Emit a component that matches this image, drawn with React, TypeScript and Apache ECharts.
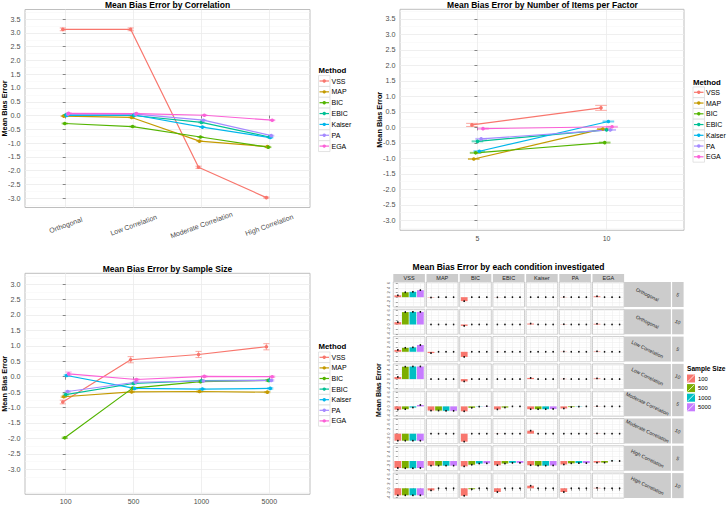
import React, { useEffect, useRef } from 'react';
import * as echarts from 'echarts';

const FONT = '"Liberation Sans", Arial, Helvetica, sans-serif';

// ---------- data ----------
const METHODS = ['VSS', 'MAP', 'BIC', 'EBIC', 'Kaiser', 'PA', 'EGA'];
const METHOD_COLORS = ['#F8766D', '#C49A00', '#53B400', '#00C094', '#00B6EB', '#A58AFF', '#FB61D7'];

const CORRELATIONS = ['Orthogonal', 'Low Correlation', 'Moderate Correlation', 'High Correlation'];
const ITEMS = ['5', '10'];
const SAMPLE_SIZES = ['100', '500', '1000', '5000'];
const SIZE_COLORS = ['#F8766D', '#7CAE00', '#00BFC4', '#C77CFF'];

const LINE_Y_TICKS = [-3, -2.5, -2, -1.5, -1, -0.5, 0, 0.5, 1, 1.5, 2, 2.5, 3, 3.5];
const FACET_Y_TICKS = [-4, -2, 0, 2, 4, 6];

// Mean bias by correlation (rows = methods, cols = correlation levels)
const CORR_MEAN = [
  [3.13, 3.13, -1.88, -2.98],
  [-0.02, -0.07, -0.93, -1.13],
  [-0.29, -0.4, -0.78, -1.15],
  [0.02, 0.0, -0.25, -0.78],
  [0.0, 0.02, -0.42, -0.8],
  [0.05, 0.05, -0.17, -0.73],
  [0.08, 0.07, 0.01, -0.17],
];
const CORR_SE = [
  [0.05, 0.05, 0.04, 0.02],
  [0.015, 0.015, 0.015, 0.015],
  [0.015, 0.015, 0.015, 0.015],
  [0.015, 0.015, 0.015, 0.015],
  [0.015, 0.015, 0.015, 0.015],
  [0.015, 0.015, 0.015, 0.015],
  [0.015, 0.015, 0.015, 0.015],
];

// Mean bias by number of items per factor
const ITEMS_MEAN = [
  [0.08, 0.63],
  [-1.02, -0.05],
  [-0.82, -0.49],
  [-0.45, -0.08],
  [-0.77, 0.19],
  [-0.37, -0.08],
  [-0.04, 0.02],
];
const ITEMS_SE = [
  [0.05, 0.08],
  [0.015, 0.015],
  [0.015, 0.015],
  [0.015, 0.015],
  [0.015, 0.015],
  [0.015, 0.015],
  [0.015, 0.015],
];

// Mean bias by sample size
const SIZE_MEAN = [
  [-0.82, 0.55, 0.72, 0.97],
  [-0.65, -0.49, -0.48, -0.5],
  [-1.98, -0.37, -0.16, -0.12],
  [-0.58, -0.22, -0.13, -0.12],
  [0.04, -0.38, -0.4, -0.38],
  [-0.48, -0.18, -0.14, -0.12],
  [0.09, -0.09, 0.01, 0.0],
];
const SIZE_SE = [
  [0.06, 0.1, 0.1, 0.1],
  [0.02, 0.02, 0.02, 0.02],
  [0.02, 0.02, 0.02, 0.02],
  [0.02, 0.02, 0.02, 0.02],
  [0.02, 0.02, 0.02, 0.02],
  [0.02, 0.02, 0.02, 0.02],
  [0.06, 0.02, 0.02, 0.02],
];

// Facet grid rows (correlation x items) and per-method cell values (4 sample sizes)
const FACET_ROW_CORR = ['Orthogonal', 'Orthogonal', 'Low Correlation', 'Low Correlation',
  'Moderate Correlation', 'Moderate Correlation', 'High Correlation', 'High Correlation'];
const FACET_ROW_ITEMS = ['5', '10', '5', '10', '5', '10', '5', '10'];

const FACET_VSS = [
  [0.8, 2.1, 2.3, 3.0], [1.0, 5.3, 5.4, 5.4], [0.8, 1.7, 1.9, 2.9], [0.9, 5.3, 5.4, 5.4],
  [-1.4, -1.2, -0.5, 0.6], [-3.0, -3.0, -3.0, -3.0], [-3.0, -3.1, -3.1, -3.0], [-3.0, -3.0, -3.0, -3.0],
];
const FACET_MAP = [
  [-0.15, 0, 0, 0], [0, 0, 0, 0], [-0.55, 0, 0, 0], [0, 0, 0, 0],
  [-1.8, -1.8, -1.9, -1.9], [0, 0, 0, 0], [-2.0, -2.0, -2.0, -2.0], [-0.9, 0, 0, 0],
];
const FACET_BIC = [
  [-1.7, 0, 0, 0], [-0.6, 0, 0, 0], [-2.2, 0, 0, 0], [-1.0, 0, 0, 0],
  [-2.1, -0.6, -0.1, 0.1], [-3.4, 0, 0, 0], [-2.3, -1.6, -1.1, -1.0], [-3.2, -0.4, 0, 0],
];
const FACET_EBIC = [
  [-0.05, 0, 0, 0], [0, 0, 0, 0], [-0.05, 0, 0, 0], [0, 0, 0, 0],
  [-1.3, -0.5, 0, 0], [-0.05, 0, 0, 0], [-1.8, -1.1, -0.8, -0.8], [-1.6, 0, 0, 0],
];
const FACET_KAISER = [
  [0, 0, 0, 0], [0.4, 0, 0, 0], [0, 0, 0, 0], [0.5, 0, 0, 0],
  [-1.2, -1.2, -1.2, -1.1], [1.3, 0, 0, 0], [-1.8, -2.0, -2.0, -1.9], [1.1, 0, 0, 0],
];
const FACET_PA = [
  [0.1, 0, 0, 0], [0.1, 0, 0, 0], [0.1, 0, 0, 0], [0.1, 0, 0, 0],
  [-0.9, -0.3, -0.1, 0], [0, 0, 0, 0], [-1.5, -1.0, -0.9, -0.9], [-1.6, 0, 0, 0],
];
const FACET_EGA = [
  [0.4, 0, 0, 0], [0.3, 0, 0, 0], [0.2, 0, 0, 0], [0.3, 0, 0, 0],
  [0.1, 0, 0, 0], [0.1, 0, 0, 0], [-0.7, -0.7, 0.05, 0], [0.2, 0, 0, 0],
];
const FACET_SE = 0.15;

// ---------- style / layout ----------
const GRID_MAJOR = '#EBEBEB';
const GRID_MINOR = '#F5F5F5';
const BORDER = '#BFBFBF';
const TICK = '#6B6B6B';
const AXIS_TEXT = '#4D4D4D';
const DODGE = 0.1 / 7;
const CAP = 0.09;

const FX0 = 393.3, FPX = 33.2, FW = 31.6;
const FY0 = 282, FPY = 27.3, FH = 25;
const FY_MIN = -4.2, FY_MAX = 6.5;

function isMult(v: number, step: number) {
  const q = v / step;
  return Math.abs(q - Math.round(q)) < 1e-6;
}

function txt(x: number, y: number, s: string, o: any = {}) {
  return {
    type: 'text', x, y, rotation: o.rotation || 0, z: 10,
    style: {
      text: s, fontSize: o.size || 7, fontWeight: o.bold ? 'bold' : 'normal', fontFamily: FONT,
      fill: o.color || '#000', align: o.align || 'left', verticalAlign: 'middle',
      textAlign: o.align || 'left', textVerticalAlign: 'middle',
    },
  };
}

function buildOption() {
  const opt: any = { animation: false, backgroundColor: '#fff', grid: [], xAxis: [], yAxis: [], series: [], graphic: [] };
  const g = opt.graphic;

  const linePanels = [
    {
      box: { left: 25, top: 9.5, width: 285, height: 198 }, yMin: -3.34, yMax: 3.85,
      cats: CORRELATIONS, means: CORR_MEAN, ses: CORR_SE,
      xLabel: { rotate: 20, align: 'center', verticalAlign: 'middle', margin: 17.5 },
      title: 'Mean Bias Error by Correlation', titleX: 167.5, titleY: 4.8,
      leg: { x: 318.5, titleY: 70, y0: 81, pitch: 10.85 },
    },
    {
      box: { left: 400, top: 9.3, width: 284, height: 221 }, yMin: -3.32, yMax: 3.81,
      cats: ITEMS, means: ITEMS_MEAN, ses: ITEMS_SE,
      xLabel: { margin: 4.5 },
      title: 'Mean Bias Error by Number of Items per Factor', titleX: 542.5, titleY: 4.8,
      leg: { x: 693, titleY: 82, y0: 92.3, pitch: 10.75 },
    },
    {
      box: { left: 25, top: 273.3, width: 285, height: 221 }, yMin: -3.81, yMax: 3.35,
      cats: SAMPLE_SIZES, means: SIZE_MEAN, ses: SIZE_SE,
      xLabel: { margin: 4 },
      title: 'Mean Bias Error by Sample Size', titleX: 167.5, titleY: 269,
      leg: { x: 318.5, titleY: 346.7, y0: 357.3, pitch: 10.6 },
    },
  ];

  linePanels.forEach((p, gi) => {
    const { box, cats } = p;
    opt.grid.push({ ...box, show: true, borderColor: BORDER, borderWidth: 1, backgroundColor: '#fff' });
    const ci = cats.map((_: any, i: number) => i);
    opt.xAxis.push({
      type: 'value', gridIndex: gi, min: -0.6, max: cats.length - 0.4, minInterval: 1, maxInterval: 1,
      axisLine: { show: false },
      axisTick: { show: true, customValues: ci, length: 3, lineStyle: { color: TICK, width: 0.8 } },
      axisLabel: {
        customValues: ci, fontSize: 7, color: AXIS_TEXT, fontFamily: FONT, ...p.xLabel,
        formatter: (v: number) => (isMult(v, 1) && cats[Math.round(v)] !== undefined ? cats[Math.round(v)] : ''),
      },
      splitLine: { show: true, lineStyle: { color: GRID_MAJOR, width: 0.8 } },
    });
    const yt = LINE_Y_TICKS.filter((t) => t >= p.yMin && t <= p.yMax);
    opt.yAxis.push({
      type: 'value', gridIndex: gi, min: p.yMin, max: p.yMax, minInterval: 0.5, maxInterval: 0.5,
      axisLine: { show: false },
      axisTick: { show: true, customValues: yt, length: 3, lineStyle: { color: TICK, width: 0.8 } },
      axisLabel: {
        customValues: yt, fontSize: 7.2, color: AXIS_TEXT, fontFamily: FONT, margin: 4.5,
        formatter: (v: number) => (isMult(v, 0.5) ? v.toFixed(1) : ''),
      },
      splitLine: { show: true, lineStyle: { color: GRID_MAJOR, width: 0.8 } },
      minorTick: { show: false, splitNumber: 2 },
      minorSplitLine: { show: true, lineStyle: { color: GRID_MINOR, width: 0.5 } },
    });

    const errData: any[] = [];
    METHODS.forEach((m, k) => {
      const pts = p.means[k].map((v: number, i: number) => [i + (k - 3) * DODGE, v]);
      opt.series.push({
        type: 'line', name: m, xAxisIndex: gi, yAxisIndex: gi, data: pts,
        symbol: 'circle', symbolSize: 3.6, showSymbol: true,
        lineStyle: { color: METHOD_COLORS[k], width: 1.2 }, itemStyle: { color: METHOD_COLORS[k] }, z: 3,
      });
      p.means[k].forEach((v: number, i: number) => {
        const se = p.ses[k][i];
        errData.push([i + (k - 3) * DODGE, v - se, v + se, k]);
      });
    });
    opt.series.push({
      type: 'custom', xAxisIndex: gi, yAxisIndex: gi, data: errData, z: 2,
      encode: { x: 0, y: [1, 2] },
      renderItem: (params: any, api: any) => {
        const x = api.value(0), lo = api.value(1), hi = api.value(2), k = api.value(3);
        const a = api.coord([x, lo]);
        const b = api.coord([x, hi]);
        const half = api.size([CAP, 0])[0] / 2;
        const style = { stroke: METHOD_COLORS[k], lineWidth: 0.9, opacity: 0.7 };
        return {
          type: 'group',
          children: [
            { type: 'line', shape: { x1: a[0], y1: a[1], x2: b[0], y2: b[1] }, style },
            { type: 'line', shape: { x1: a[0] - half, y1: a[1], x2: a[0] + half, y2: a[1] }, style },
            { type: 'line', shape: { x1: b[0] - half, y1: b[1], x2: b[0] + half, y2: b[1] }, style },
          ],
        };
      },
    });

    // legend (drawn as graphics: key box + line + point + label)
    const L = p.leg;
    g.push(txt(L.x, L.titleY, 'Method', { size: 7.8, bold: true }));
    METHODS.forEach((m, k) => {
      const cy = L.y0 + k * L.pitch;
      g.push({
        type: 'rect', z: 5,
        shape: { x: L.x, y: cy - L.pitch / 2, width: 11.5, height: L.pitch },
        style: { fill: '#fff', stroke: '#D9D9D9', lineWidth: 0.7 },
      });
      g.push({
        type: 'line', z: 6, shape: { x1: L.x + 1, y1: cy, x2: L.x + 10.5, y2: cy },
        style: { stroke: METHOD_COLORS[k], lineWidth: 1.2 },
      });
      g.push({ type: 'circle', z: 7, shape: { cx: L.x + 5.75, cy, r: 1.7 }, style: { fill: METHOD_COLORS[k] } });
      g.push(txt(L.x + 13, cy, m, { size: 7 }));
    });

    g.push(txt(p.titleX, p.titleY, p.title, { size: 8.5, bold: true, align: 'center' }));
    g.push(txt(box.left - 21, box.top + box.height / 2, 'Mean Bias Error', { size: 7.3, bold: true, align: 'center', rotation: Math.PI / 2 }));
  });

  // ---------- facet grid ----------
  const FACET_MEANS = [FACET_VSS, FACET_MAP, FACET_BIC, FACET_EBIC, FACET_KAISER, FACET_PA, FACET_EGA];
  const bw = (FW / 4.2) * 0.9;
  for (let r = 0; r < FACET_ROW_CORR.length; r++) {
    for (let c = 0; c < METHODS.length; c++) {
      const gi = opt.grid.length;
      opt.grid.push({
        left: FX0 + c * FPX, top: FY0 + r * FPY, width: FW, height: FH,
        show: true, borderColor: BORDER, borderWidth: 0.8, backgroundColor: '#fff',
      });
      opt.xAxis.push({
        type: 'value', gridIndex: gi, min: -0.6, max: 3.6, minInterval: 1, maxInterval: 1,
        axisLine: { show: false },
        axisTick: { show: r === FACET_ROW_CORR.length - 1, customValues: [0, 1, 2, 3], length: 2.5, lineStyle: { color: TICK, width: 0.7 } },
        axisLabel: { show: false },
        splitLine: { show: true, lineStyle: { color: GRID_MAJOR, width: 0.5 } },
      });
      opt.yAxis.push({
        type: 'value', gridIndex: gi, min: FY_MIN, max: FY_MAX, minInterval: 2, maxInterval: 2,
        axisLine: { show: false },
        axisTick: { show: c === 0, customValues: FACET_Y_TICKS, length: 2, lineStyle: { color: TICK, width: 0.6 } },
        axisLabel: {
          show: c === 0, customValues: FACET_Y_TICKS, fontSize: 4, rotate: 90, margin: 2.5,
          color: AXIS_TEXT, fontFamily: FONT,
          formatter: (v: number) => (isMult(v, 2) ? String(v) : ''),
        },
        splitLine: { show: true, lineStyle: { color: GRID_MAJOR, width: 0.5 } },
        minorTick: { show: false, splitNumber: 2 },
        minorSplitLine: { show: true, lineStyle: { color: GRID_MINOR, width: 0.4 } },
      });
      const vals = FACET_MEANS[c][r];
      opt.series.push({
        type: 'bar', xAxisIndex: gi, yAxisIndex: gi, barWidth: bw, z: 2,
        data: vals.map((v: number, i: number) => ({ value: [i, v], itemStyle: { color: SIZE_COLORS[i] } })),
      });
      opt.series.push({
        type: 'custom', xAxisIndex: gi, yAxisIndex: gi, z: 3,
        data: vals.map((v: number, i: number) => [i, v - FACET_SE, v + FACET_SE]),
        encode: { x: 0, y: [1, 2] },
        renderItem: (params: any, api: any) => {
          const x = api.value(0), lo = api.value(1), hi = api.value(2);
          const a = api.coord([x, lo]);
          const b = api.coord([x, hi]);
          const half = api.size([0.18, 0])[0] / 2;
          const style = { stroke: '#111', lineWidth: 1 };
          return {
            type: 'group',
            children: [
              { type: 'line', shape: { x1: a[0], y1: a[1], x2: b[0], y2: b[1] }, style },
              { type: 'line', shape: { x1: a[0] - half, y1: a[1], x2: a[0] + half, y2: a[1] }, style },
              { type: 'line', shape: { x1: b[0] - half, y1: b[1], x2: b[0] + half, y2: b[1] }, style },
            ],
          };
        },
      });
    }
  }

  // column strips
  METHODS.forEach((m, c) => {
    const x = FX0 + c * FPX;
    g.push({ type: 'rect', z: 1, shape: { x, y: 274, width: FW, height: 8 }, style: { fill: '#CCCCCC' } });
    g.push(txt(x + FW / 2, 278.2, m, { size: 5.5, align: 'center', color: '#222' }));
  });
  // row strips
  const rs1x = FX0 + 7 * FPX - (FPX - FW), rs1w = 46.8;
  const rs2x = rs1x + rs1w + 1.2, rs2w = 11.5;
  FACET_ROW_CORR.forEach((lab, r) => {
    const y = FY0 + r * FPY;
    g.push({ type: 'rect', z: 1, shape: { x: rs1x, y, width: rs1w, height: FH }, style: { fill: '#CCCCCC' } });
    g.push({ type: 'rect', z: 1, shape: { x: rs2x, y, width: rs2w, height: FH }, style: { fill: '#CCCCCC' } });
    g.push(txt(rs1x + rs1w / 2, y + FH / 2, lab, { size: 5, align: 'center', color: '#222', rotation: -0.45 }));
    g.push(txt(rs2x + rs2w / 2, y + FH / 2, FACET_ROW_ITEMS[r], { size: 5, align: 'center', color: '#222', rotation: -0.45 }));
  });

  g.push(txt(508.5, 267.3, 'Mean Bias Error by each condition investigated', { size: 8.5, bold: true, align: 'center' }));
  g.push(txt(378.5, FY0 + (8 * FPY - (FPY - FH)) / 2, 'Mean Bias Error', { size: 7, bold: true, align: 'center', rotation: Math.PI / 2 }));

  // sample size legend
  const lx = 687, ly0 = 374.5, lp = 9.6, ks = 8;
  g.push(txt(lx, 368.5, 'Sample Size', { size: 6.6, bold: true }));
  SAMPLE_SIZES.forEach((s, i) => {
    const y = ly0 + i * lp;
    g.push({ type: 'rect', z: 1, shape: { x: lx, y, width: ks, height: ks }, style: { fill: SIZE_COLORS[i] } });
    g.push({ type: 'line', z: 2, shape: { x1: lx + 0.5, y1: y + ks - 0.5, x2: lx + ks - 0.5, y2: y + 0.5 }, style: { stroke: '#fff', lineWidth: 0.8 } });
    g.push(txt(lx + ks + 3, y + ks / 2, s, { size: 5.8 }));
  });

  return opt;
}

export default function App() {
  const ref = useRef<HTMLDivElement>(null);
  useEffect(() => {
    if (!ref.current) return;
    const chart = echarts.init(ref.current, undefined, { renderer: 'svg' });
    chart.setOption(buildOption());
    return () => chart.dispose();
  }, []);
  return (
    <div
      ref={ref}
      style={{ position: 'fixed', left: 0, top: 0, width: 727, height: 506, background: '#fff' }}
    />
  );
}
